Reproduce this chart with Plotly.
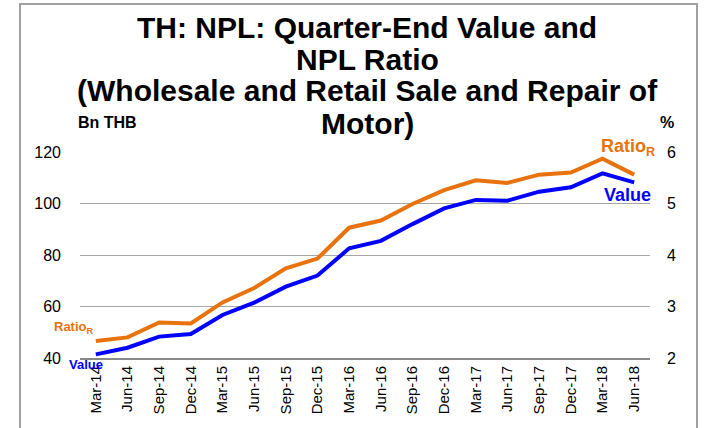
import plotly.graph_objects as go

quarters = ["Mar-14", "Jun-14", "Sep-14", "Dec-14", "Mar-15", "Jun-15", "Sep-15", "Dec-15",
            "Mar-16", "Jun-16", "Sep-16", "Dec-16", "Mar-17", "Jun-17", "Sep-17", "Dec-17",
            "Mar-18", "Jun-18"]
value_bn_thb = [41.4, 44.0, 48.3, 49.3, 56.7, 61.5, 67.7, 72.0,
                82.6, 85.5, 92.0, 98.1, 101.4, 101.1, 104.6, 106.3,
                111.7, 108.2]
npl_ratio_pct = [2.33, 2.40, 2.69, 2.67, 3.08, 3.36, 3.74, 3.93,
                 4.53, 4.67, 4.99, 5.26, 5.45, 5.40, 5.56, 5.60,
                 5.87, 5.56]
left_ticks = [40, 60, 80, 100, 120]
right_ticks = [2, 3, 4, 5, 6]

W, H = 704, 428
L, R, T, B = 80, 54, 152, 70
PW, PH = W - L - R, H - T - B

def px(x):
    return (x - L) / PW

def py(y):
    return (H - B - y) / PH

FONT = "Liberation Sans, Arial, sans-serif"
ORANGE = "#E8720C"
BLUE = "#0000FF"

fig = go.Figure()
fig.add_trace(go.Scatter(x=quarters, y=npl_ratio_pct, mode="lines", yaxis="y2",
                         line=dict(color=ORANGE, width=4), name="Ratio"))
fig.add_trace(go.Scatter(x=quarters, y=value_bn_thb, mode="lines", yaxis="y",
                         line=dict(color=BLUE, width=4), name="Value"))

annotations = []
title_lines = ["TH: NPL: Quarter-End Value and", "NPL Ratio",
               "(Wholesale and Retail Sale and Repair of", "Motor)"]
title_y = [27, 59, 91, 123]
for t, yy in zip(title_lines, title_y):
    annotations.append(dict(text="<b>%s</b>" % t, x=px(367), y=py(yy), xref="paper", yref="paper",
                            xanchor="center", yanchor="middle", showarrow=False,
                            font=dict(family=FONT, size=30, color="black")))
annotations += [
    dict(text="<b>Bn THB</b>", x=px(76), y=py(122), xref="paper", yref="paper",
         xanchor="left", yanchor="middle", showarrow=False,
         font=dict(family=FONT, size=16, color="black")),
    dict(text="<b>%</b>", x=px(667), y=py(122), xref="paper", yref="paper",
         xanchor="center", yanchor="middle", showarrow=False,
         font=dict(family=FONT, size=16, color="black")),
    dict(text="<b>Ratio<sub>R</sub></b>", x=px(52), y=py(327), xref="paper", yref="paper",
         xanchor="left", yanchor="middle", showarrow=False,
         font=dict(family=FONT, size=13, color=ORANGE)),
    dict(text="<b>Value</b>", x=px(67), y=py(364), xref="paper", yref="paper",
         xanchor="left", yanchor="middle", showarrow=False,
         font=dict(family=FONT, size=13, color=BLUE)),
    dict(text="<b>Ratio<sub>R</sub></b>", x=px(657), y=py(147), xref="paper", yref="paper",
         xanchor="right", yanchor="middle", showarrow=False,
         font=dict(family=FONT, size=18, color=ORANGE)),
    dict(text="<b>Value</b>", x=px(653), y=py(195), xref="paper", yref="paper",
         xanchor="right", yanchor="middle", showarrow=False,
         font=dict(family=FONT, size=18, color=BLUE)),
]

fig.update_layout(
    width=W, height=H,
    margin=dict(l=L, r=R, t=T, b=B, pad=0),
    paper_bgcolor="white", plot_bgcolor="white",
    showlegend=False,
    font=dict(family=FONT, size=15, color="black"),
    xaxis=dict(type="category", range=[-0.5, 17.5], tickangle=-90,
               tickfont=dict(size=15, color="black"), showgrid=False, showline=True,
               linecolor="#888888", linewidth=2, ticks="", ticklen=0,
               tickvals=quarters, ticktext=quarters),
    yaxis=dict(range=[40, 120], tickvals=left_ticks, showgrid=True,
               gridcolor="#A6A6A6", gridwidth=1, zeroline=False,
               showline=False, ticks="", tickfont=dict(size=16, color="black"),
               ticklabelstandoff=18),
    yaxis2=dict(range=[2, 6], tickvals=right_ticks, overlaying="y", side="right",
                showgrid=False, zeroline=False, showline=False, ticks="",
                tickfont=dict(size=16, color="black"), ticklabelstandoff=16),
    annotations=annotations,
    shapes=[dict(type="rect", xref="paper", yref="paper",
                 x0=px(20), x1=px(697), y0=py(440), y1=py(4),
                 line=dict(color="#A0A0A0", width=2), fillcolor="rgba(0,0,0,0)",
                 layer="below")],
)

fig.write_html("out.html")
